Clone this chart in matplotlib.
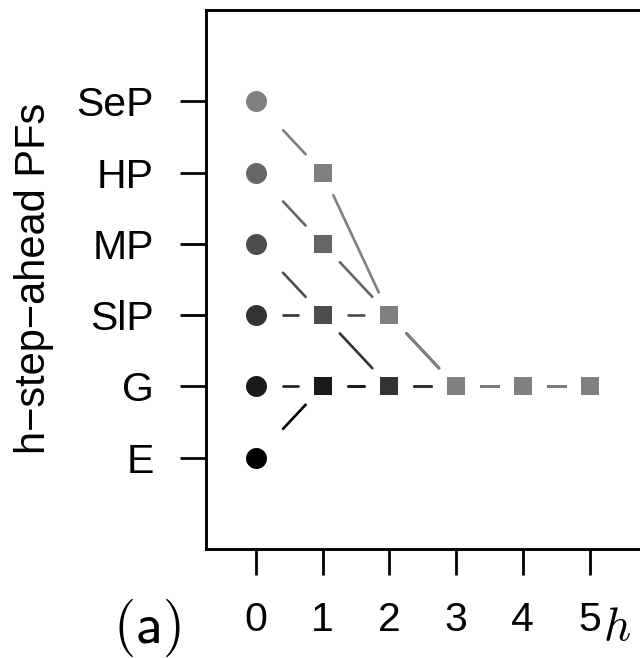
import numpy as np
import matplotlib
matplotlib.use('Agg')
import matplotlib.pyplot as plt

plt.rcParams['font.family'] = ['Liberation Sans', 'DejaVu Sans']
plt.rcParams['mathtext.fontset'] = 'cm'

# PF levels on the y axis, bottom to top
pf_names = ['E', 'G', 'SlP', 'MP', 'HP', 'SeP']
steps = [0, 1, 2, 3, 4, 5]

# where each starting PF sits at every step h (drawn in this order)
path_E = ['E', 'G', 'G', 'G', 'G', 'G']
path_G = ['G', 'G', 'G', 'G', 'G', 'G']
path_SlP = ['SlP', 'SlP', 'G', 'G', 'G', 'G']
path_MP = ['MP', 'SlP', 'SlP', 'G', 'G', 'G']
path_HP = ['HP', 'MP', 'SlP', 'G', 'G', 'G']
path_SeP = ['SeP', 'HP', 'SlP', 'G', 'G', 'G']
paths = [path_E, path_G, path_SlP, path_MP, path_HP, path_SeP]
colors = ['#000000', '#1a1a1a', '#333333', '#4d4d4d', '#666666', '#808080']


def gapped_segments(ax, xs, ys, gap, gap0):
    # cut each segment short so it stops before the markers (like R type="b")
    pts = ax.transData.transform(np.column_stack([xs, ys]))
    inv = ax.transData.inverted()
    segs = []
    for i in range(len(pts) - 1):
        d = pts[i + 1] - pts[i]
        length = np.hypot(d[0], d[1])
        t0 = gap0 / abs(d[0]) if xs[i] == 0 else gap / length
        t1 = 1 - gap / length
        segs.append(inv.transform([pts[i] + t0 * d, pts[i] + t1 * d]))
    return segs


fig = plt.figure(figsize=(6.4, 6.58), dpi=100)
ax = fig.add_axes([206 / 640, 109 / 658, 450 / 640, 539 / 658])
ax.set_xlim(-0.75, -0.75 + 450 / 66.7)
ax.set_ylim(-0.28, 7.28)

for path, col in zip(paths, colors):
    ys = [pf_names.index(p) + 1 for p in path]
    for seg in gapped_segments(ax, steps, ys, 25, 27):
        ax.plot(seg[:, 0], seg[:, 1], color=col, lw=1.9, solid_capstyle='round')
    ax.plot(steps[:1], ys[:1], 'o', color=col, ms=15.1, mew=0)
    ax.plot(steps[1:], ys[1:], 's', color=col, ms=13.5, mew=0, ls='none')

ax.set_xticks(steps)
ax.set_xticklabels([str(s) for s in steps])
ax.set_yticks(range(1, len(pf_names) + 1))
ax.set_yticklabels(pf_names)
ax.tick_params(length=18.5, width=2.0, pad=19, labelsize=29.5, color='black')
ax.spines['right'].set_visible(False)
for s in ['left', 'top', 'bottom']:
    ax.spines[s].set_linewidth(2.1)

fig.text(45 / 640, 1 - 278.5 / 658, 'h\u2212step\u2212ahead PFs', fontsize=30,
         rotation=90, rotation_mode='anchor', ha='center', va='baseline')
fig.text(603 / 640, 1 - 640 / 658, r'$h$', fontsize=34, ha='left', va='baseline')
fig.text(113 / 640, 1 - 643 / 658, r'$\mathsf{(a)}$', fontsize=41, ha='left', va='baseline')

fig.savefig('out.png', dpi=100)
plt.close(fig)
